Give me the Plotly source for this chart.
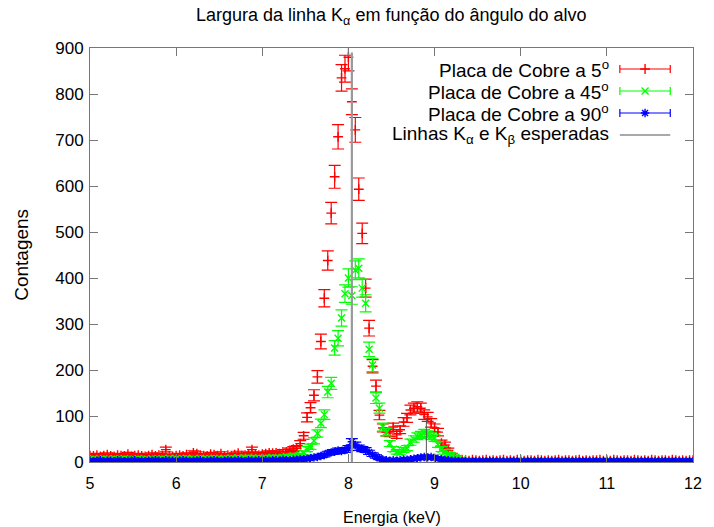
import numpy as np
import plotly.graph_objects as go

# ---------------- data ----------------
# energy grid (keV), channel width 0.04 keV
energia = np.round(5.0 + 0.04 * np.arange(176), 2)

placa_5 = [
    # 5.00 - 7.36
    14, 13, 15, 12, 14, 16, 13, 12, 15, 14,
    13, 17, 12, 14, 15, 13, 12, 14, 16, 13,
    15, 14, 27, 13, 12, 14, 15, 13, 16, 14,
    20, 18, 15, 14, 13, 17, 16, 14, 18, 13,
    15, 14, 16, 19, 14, 15, 17, 27, 16, 15,
    17, 18, 20, 19, 20, 18, 22, 22, 25, 28,
    # 7.40 - 9.32
    30, 40, 57, 97, 118, 145, 185, 262, 356, 438,
    541, 620, 707, 835, 855, 880, 783, 722, 593, 497,
    378, 291, 208, 165, 102, 74, 65, 63, 76, 59,
    70, 87, 96, 113, 117, 120, 117, 103, 98, 85,
    74, 65, 41, 37, 25, 15, 10, 7, 5,
    # 9.36 - 12.00
    4, 3, 5, 4, 3, 4, 5, 3, 4, 3,
    4, 5, 3, 4, 3, 5, 4, 3, 4, 4,
    3, 5, 4, 3, 4, 3, 4, 5, 3, 4,
    4, 3, 4, 5, 3, 4, 3, 4, 4, 5,
    3, 4, 3, 5, 4, 3, 4, 4, 3, 5,
    4, 3, 4, 3, 5, 4, 3, 4, 4, 3,
    5, 4, 3, 4, 3, 4, 4,
]

placa_45 = [
    # 5.00 - 7.36
    6, 7, 5, 6, 7, 6, 5, 7, 6, 6,
    7, 6, 5, 6, 7, 6, 6, 5, 7, 6,
    6, 7, 6, 8, 6, 7, 6, 7, 8, 6,
    7, 6, 8, 7, 6, 7, 8, 7, 6, 8,
    7, 8, 7, 9, 7, 8, 10, 8, 7, 9,
    8, 9, 8, 10, 9, 8, 10, 12, 11, 13,
    # 7.40 - 9.32
    12, 15, 20, 28, 33, 46, 62, 84, 103, 152,
    171, 248, 269, 313, 366, 400, 362, 417, 421, 378,
    345, 245, 211, 139, 117, 76, 65, 40, 28, 22,
    20, 26, 30, 43, 50, 56, 59, 63, 60, 56,
    52, 38, 28, 22, 17, 14, 10, 7, 5,
    # 9.36 - 12.00
    3, 2, 3, 2, 2, 3, 2, 3, 2, 2,
    3, 2, 2, 3, 2, 3, 2, 2, 3, 2,
    2, 3, 2, 2, 3, 2, 3, 2, 2, 3,
    2, 2, 3, 2, 3, 2, 2, 3, 2, 2,
    3, 2, 2, 3, 2, 2, 3, 2, 3, 2,
    2, 3, 2, 2, 3, 2, 2, 3, 2, 2,
    3, 2, 2, 3, 2, 2, 3,
]

placa_90 = [
    # 5.00 - 7.36
    3, 2, 3, 4, 2, 3, 3, 2, 4, 3,
    2, 3, 3, 4, 2, 3, 2, 3, 3, 4,
    3, 2, 4, 3, 3, 2, 3, 4, 3, 2,
    3, 3, 4, 2, 3, 3, 4, 3, 2, 3,
    4, 3, 3, 4, 3, 2, 4, 3, 3, 4,
    3, 4, 3, 4, 4, 3, 5, 4, 4, 5,
    # 7.40 - 9.32
    5, 6, 6, 7, 8, 10, 11, 13, 15, 19,
    21, 22, 25, 24, 26, 30, 44, 37, 31, 28,
    26, 21, 16, 12, 8, 5, 4, 3, 4, 3,
    4, 5, 5, 6, 7, 8, 10, 11, 10, 11,
    9, 7, 6, 5, 4, 3, 3, 2, 2,
    # 9.36 - 12.00
    2, 1, 2, 2, 1, 2, 1, 2, 2, 1,
    2, 1, 1, 2, 2, 1, 2, 1, 2, 2,
    1, 2, 2, 1, 2, 1, 2, 2, 1, 2,
    2, 1, 2, 1, 2, 2, 1, 2, 2, 1,
    2, 2, 1, 2, 1, 2, 2, 1, 2, 1,
    2, 1, 2, 2, 1, 2, 1, 2, 2, 1,
    2, 2, 1, 2, 1, 2, 1,
]

# expected lines
ka_energia, ka_altura = 8.04, 890
kb_energia, kb_altura = 8.905, 95

series_nomes = ["Placa de Cobre a 5<sup>o</sup>",
                "Placa de Cobre a 45<sup>o</sup>",
                "Placa de Cobre a 90<sup>o</sup>"]
nome_linhas = "Linhas K<sub>α</sub> e K<sub>β</sub> esperadas"
titulo = "Largura da linha K<sub>α</sub> em função do ângulo do alvo"

# ---------------- styles ----------------
cores = ["#ff0000", "#00ff00", "#0000ff"]
simbolos = ["cross-thin", "x-thin", "asterisk"]
FONT = "Liberation Sans, Arial, sans-serif"
AXC = "#777777"

fig = go.Figure()

for nome, ys, cor, simb in zip(series_nomes, [placa_5, placa_45, placa_90], cores, simbolos):
    ys = np.array(ys, dtype=float)
    fig.add_trace(go.Scatter(
        x=energia, y=ys, mode="markers", name=nome, showlegend=False,
        marker=dict(symbol=simb, size=7, color=cor, line=dict(color=cor, width=1.4)),
        error_y=dict(type="data", array=np.sqrt(ys), color=cor, thickness=1.2, width=6),
    ))

fig.add_trace(go.Scatter(x=[ka_energia, ka_energia], y=[0, ka_altura], mode="lines",
                         showlegend=False, line=dict(color="#999999", width=2.2)))
fig.add_trace(go.Scatter(x=[kb_energia, kb_energia], y=[0, kb_altura], mode="lines",
                         showlegend=False, line=dict(color="#555555", width=1)))

# ---------------- custom gnuplot-like legend (overlay axes in [0,1]) ----------------
L, R, T, B = 90, 700, 48, 462
def px(xp):
    return (xp - L) / (R - L)
def py(yp):
    return (B - yp) / (B - T)

rows = [69, 91, 113, 135]
x_text = px(617)
x_mid = px(651.5)
half = (677 - 626) / 2 / (R - L)

for i, (nome, cor, simb) in enumerate(zip(series_nomes, cores, simbolos)):
    fig.add_trace(go.Scatter(
        x=[x_mid], y=[py(rows[i])], xaxis="x2", yaxis="y2", mode="markers",
        showlegend=False, hoverinfo="skip",
        marker=dict(symbol=simb, size=7, color=cor, line=dict(color=cor, width=1.4)),
        error_x=dict(type="constant", value=half, color=cor, thickness=1.2, width=4),
    ))
    fig.add_annotation(x=x_text, y=py(rows[i]), xref="x2", yref="y2", text=nome,
                       showarrow=False, xanchor="right", yanchor="middle",
                       font=dict(family=FONT, size=19, color="black"))

fig.add_trace(go.Scatter(
    x=[px(626), px(677)], y=[py(rows[3]), py(rows[3])], xaxis="x2", yaxis="y2",
    mode="lines", showlegend=False, hoverinfo="skip",
    line=dict(color="#555555", width=1)))
fig.add_annotation(x=x_text, y=py(rows[3]), xref="x2", yref="y2", text=nome_linhas,
                   showarrow=False, xanchor="right", yanchor="middle",
                   font=dict(family=FONT, size=19, color="black"))

# titles
fig.add_annotation(x=0.5, y=py(17), xref="paper", yref="paper", text=titulo,
                   showarrow=False, xanchor="center", yanchor="middle",
                   font=dict(family=FONT, size=18, color="black"))
fig.add_annotation(x=0.5, y=py(517), xref="paper", yref="paper", text="Energia (keV)",
                   showarrow=False, xanchor="center", yanchor="middle",
                   font=dict(family=FONT, size=16, color="black"))
fig.add_annotation(x=px(20), y=0.5, xref="paper", yref="paper", text="Contagens",
                   showarrow=False, xanchor="center", yanchor="middle", textangle=-90,
                   font=dict(family=FONT, size=19, color="black"))

axis_common = dict(showline=True, linecolor=AXC, linewidth=1, mirror="allticks",
                   ticks="inside", ticklen=8, tickcolor=AXC, tickwidth=1,
                   showgrid=False, zeroline=False)

fig.update_layout(
    width=714, height=527,
    margin=dict(l=L, r=714 - R, t=T, b=527 - B),
    paper_bgcolor="white", plot_bgcolor="white",
    showlegend=False,
    font=dict(family=FONT, size=16, color="black"),
    xaxis=dict(range=[5, 12], dtick=1, tick0=5, ticklabelstandoff=7,
               tickfont=dict(family=FONT, size=16), **axis_common),
    yaxis=dict(range=[0, 900], dtick=100, tick0=0, ticklabelstandoff=2,
               tickfont=dict(family=FONT, size=17), **axis_common),
    xaxis2=dict(overlaying="x", range=[0, 1], visible=False),
    yaxis2=dict(overlaying="y", range=[0, 1], visible=False),
)

fig.write_html("out.html")
